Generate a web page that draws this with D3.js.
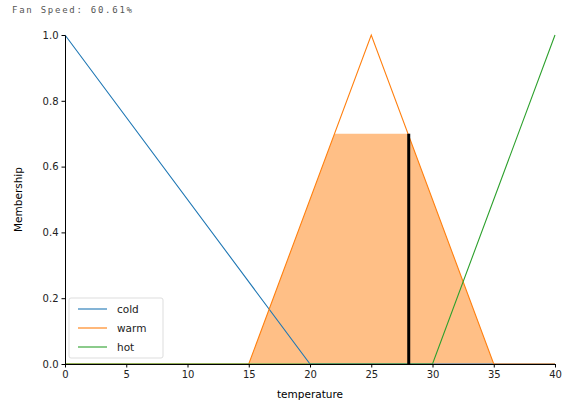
<!DOCTYPE html>
<html>
<head>
<meta charset="utf-8">
<script src="https://cdn.jsdelivr.net/npm/d3@7"></script>
<style>
  body { margin: 0; background: #fff; }
  text { font-family: "DejaVu Sans", sans-serif; }
</style>
</head>
<body>
<div id="chart"></div>
<script>
// membership functions (temperature, membership)
const coldPts = [[0, 1], [20, 0], [40, 0]];
const warmPts = [[0, 0], [15, 0], [25, 1], [35, 0], [40, 0]];
const hotPts = [[0, 0], [30, 0], [40, 1]];
// aggregated (clipped) output
const activation = [[15, 0], [22, 0.7], [28, 0.7], [35, 0]];
const centroid = 28.06;
const clipLevel = 0.7;
const xTicks = [0, 5, 10, 15, 20, 25, 30, 35, 40];
const yTicks = [0, 0.2, 0.4, 0.6, 0.8, 1.0];
const series = [
  { name: "cold", pts: coldPts, color: "#1f77b4" },
  { name: "warm", pts: warmPts, color: "#ff7f0e" },
  { name: "hot", pts: hotPts, color: "#2ca02c" }
];
const title = "Fan Speed: 60.61%";

const W = 563, H = 405;
const margin = { left: 65, right: 8, top: 35, bottom: 41 };

const svg = d3.select("#chart").append("svg")
  .attr("width", W)
  .attr("height", H);

const x = d3.scaleLinear().domain([0, 40]).range([margin.left, W - margin.right]);
const y = d3.scaleLinear().domain([0, 1]).range([H - margin.bottom, margin.top]);

svg.append("text")
  .attr("x", 12).attr("y", 13)
  .attr("font-size", 9)
  .attr("textLength", 120).attr("lengthAdjust", "spacing")
  .style("font-family", "'DejaVu Sans Mono', monospace")
  .attr("fill", "#555")
  .text(title);

const line = d3.line().x(d => x(d[0])).y(d => y(d[1]));

svg.append("path")
  .attr("d", line(activation) + "Z")
  .attr("fill", "#ff7f0e")
  .attr("fill-opacity", 0.5)
  .attr("stroke", "none");

series.forEach(s => {
  svg.append("path")
    .attr("d", line(s.pts))
    .attr("fill", "none")
    .attr("stroke", s.color)
    .attr("stroke-width", 1.1);
});

svg.append("line")
  .attr("x1", x(centroid)).attr("x2", x(centroid))
  .attr("y1", y(0)).attr("y2", y(clipLevel))
  .attr("stroke", "black")
  .attr("stroke-width", 3);

const xAxis = svg.append("g")
  .attr("transform", `translate(0,${y(0)})`)
  .call(d3.axisBottom(x).tickValues(xTicks).tickFormat(d3.format("d")).tickSize(3.5).tickSizeOuter(0));
const yAxis = svg.append("g")
  .attr("transform", `translate(${x(0)},0)`)
  .call(d3.axisLeft(y).tickValues(yTicks).tickFormat(d3.format(".1f")).tickSize(3.5).tickSizeOuter(0));
[xAxis, yAxis].forEach(g => {
  g.selectAll("text").attr("font-size", 10).attr("fill", "#222")
    .style("font-family", "'DejaVu Sans', sans-serif");
  g.select(".domain").attr("stroke", "#000").attr("stroke-width", 1);
});

svg.append("text")
  .attr("x", (x(0) + x(40)) / 2).attr("y", H - 7)
  .attr("text-anchor", "middle").attr("font-size", 10.5)
  .text("temperature");
svg.append("text")
  .attr("transform", `translate(22,${(y(0) + y(1)) / 2}) rotate(-90)`)
  .attr("text-anchor", "middle").attr("font-size", 10.5)
  .text("Membership");

const legend = svg.append("g").attr("transform", "translate(69,298)");
legend.append("rect")
  .attr("width", 94).attr("height", 60).attr("rx", 2)
  .attr("fill", "#fff").attr("fill-opacity", 0.8)
  .attr("stroke", "#ddd");
series.forEach((s, i) => {
  const yy = 11 + i * 19;
  legend.append("line")
    .attr("x1", 9).attr("x2", 38).attr("y1", yy).attr("y2", yy)
    .attr("stroke", s.color).attr("stroke-width", 1.1);
  legend.append("text")
    .attr("x", 48).attr("y", yy + 4)
    .attr("font-size", 10.5).attr("fill", "#222")
    .text(s.name);
});
</script>
</body>
</html>
